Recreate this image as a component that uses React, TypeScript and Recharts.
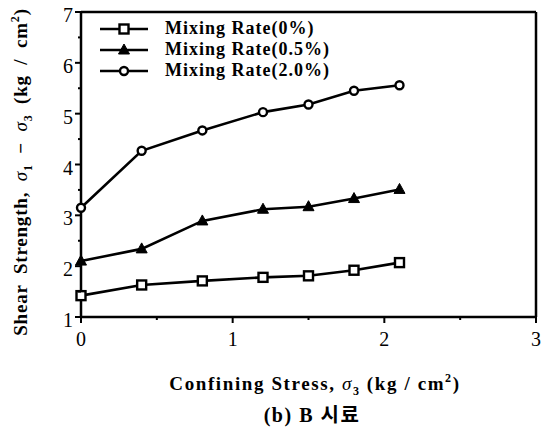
import React from "react";
import { LineChart, Line, XAxis, YAxis, ReferenceLine } from "recharts";

const xValues = [0, 0.4, 0.8, 1.2, 1.5, 1.8, 2.1];
const rate0 = [1.42, 1.63, 1.71, 1.78, 1.81, 1.92, 2.07];
const rate05 = [2.1, 2.34, 2.89, 3.12, 3.17, 3.33, 3.51];
const rate20 = [3.15, 4.27, 4.67, 5.03, 5.18, 5.45, 5.56];

const xTicks = [0, 0.5, 1, 1.5, 2, 2.5, 3];
const yTicks = [1, 1.5, 2, 2.5, 3, 3.5, 4, 4.5, 5, 5.5, 6, 6.5, 7];

const seriesNames = ["Mixing Rate(0%)", "Mixing Rate(0.5%)", "Mixing Rate(2.0%)"];
const seriesKeys = ["r0", "r05", "r20"];
const seriesMarkers = ["square", "triangle", "circle"];

const data = xValues.map((x, i) => ({ x, r0: rate0[i], r05: rate05[i], r20: rate20[i] }));

const FONT = "'Liberation Serif', 'DejaVu Serif', serif";

function Marker({ kind, cx, cy }: { kind: string; cx: number; cy: number }) {
  if (kind === "square") {
    return <rect x={cx - 4.5} y={cy - 4.5} width={9} height={9} fill="#fff" stroke="#000" strokeWidth={2.4} />;
  }
  if (kind === "circle") {
    return <circle cx={cx} cy={cy} r={4} fill="#fff" stroke="#000" strokeWidth={2.4} />;
  }
  return (
    <polygon
      points={`${cx},${cy - 6} ${cx - 5.5},${cy + 4} ${cx + 5.5},${cy + 4}`}
      fill="#000"
      stroke="#000"
      strokeWidth={1}
    />
  );
}

const makeDot = (kind: string) => (props: any) => {
  const { cx, cy, index } = props;
  return <Marker key={`${kind}-${index}`} kind={kind} cx={cx} cy={cy} />;
};

const XTick = (props: any) => {
  const { x, y, payload } = props;
  const major = Number.isInteger(payload.value);
  return (
    <g>
      <line x1={x} x2={x} y1={y} y2={y + (major ? 6 : 3)} stroke="#000" strokeWidth={2} />
      {major && (
        <text x={x} y={y + 29} textAnchor="middle" fontSize={20} fontFamily={FONT} fill="#000">
          {payload.value}
        </text>
      )}
    </g>
  );
};

const YTick = (props: any) => {
  const { x, y, payload } = props;
  const major = Number.isInteger(payload.value);
  return (
    <g>
      <line x1={x - (major ? 6 : 3)} x2={major && payload.value === 1 ? x + 5 : x} y1={y} y2={y} stroke="#000" strokeWidth={2} />
      {major && (
        <text x={x - 8} y={y + 10} textAnchor="end" fontSize={20} fontFamily={FONT} fill="#000">
          {payload.value}
        </text>
      )}
    </g>
  );
};

export default function App() {
  return (
    <div style={{ position: "absolute", left: 0, top: 0, width: 545, height: 436, background: "#fff" }}>
      <LineChart width={545} height={436} data={data} margin={{ top: 12, right: 9, bottom: 89, left: 0 }}>
        <XAxis
          type="number"
          dataKey="x"
          domain={[0, 3]}
          ticks={xTicks}
          interval={0}
          height={30}
          tickSize={0}
          tickMargin={0}
          tick={<XTick />}
          axisLine={{ stroke: "#000", strokeWidth: 2.5 }}
          tickLine={false}
        />
        <YAxis
          type="number"
          domain={[1, 7]}
          ticks={yTicks}
          interval={0}
          width={81}
          tickSize={0}
          tickMargin={0}
          tick={<YTick />}
          axisLine={{ stroke: "#000", strokeWidth: 2.5 }}
          tickLine={false}
        />
        <ReferenceLine y={7} stroke="#000" strokeWidth={2.5} />
        <ReferenceLine x={3} stroke="#000" strokeWidth={2.5} />
        {seriesKeys.map((k, i) => (
          <Line
            key={k}
            type="linear"
            dataKey={k}
            name={seriesNames[i]}
            stroke="#000"
            strokeWidth={2.6}
            dot={makeDot(seriesMarkers[i])}
            activeDot={false}
            isAnimationActive={false}
          />
        ))}
      </LineChart>

      <div style={{ position: "absolute", left: 99, top: 18, fontFamily: FONT, fontWeight: "bold", fontSize: 18, letterSpacing: 1 }}>
        {seriesNames.map((n, i) => (
          <div key={n} style={{ display: "flex", alignItems: "center", height: 21 }}>
            <svg width={50} height={14} style={{ marginRight: 16 }}>
              <line x1={1} x2={49} y1={7} y2={7} stroke="#000" strokeWidth={2.6} />
              <Marker kind={seriesMarkers[i]} cx={25} cy={7} />
            </svg>
            <span>{n}</span>
          </div>
        ))}
      </div>

      <div
        style={{
          position: "absolute",
          left: 22,
          top: 172,
          transform: "translate(-50%, -50%) rotate(-90deg)",
          whiteSpace: "nowrap",
          fontFamily: FONT,
          fontWeight: "bold",
          fontSize: 19,
          wordSpacing: 5,
          letterSpacing: 0.8,
        }}
      >
        Shear Strength, <i style={{ fontWeight: "normal" }}>σ</i><sub style={{ fontSize: 12 }}>1</sub> − <i style={{ fontWeight: "normal" }}>σ</i><sub style={{ fontSize: 12 }}>3</sub> (kg / cm<sup style={{ fontSize: 12 }}>2</sup>)
      </div>

      <div
        style={{
          position: "absolute",
          left: 315,
          top: 385,
          transform: "translate(-50%, -50%)",
          whiteSpace: "nowrap",
          fontFamily: FONT,
          fontWeight: "bold",
          fontSize: 19,
          letterSpacing: 1.6,
        }}
      >
        Confining Stress, <i style={{ fontWeight: "normal" }}>σ</i><sub style={{ fontSize: 12 }}>3</sub> (kg / cm<sup style={{ fontSize: 12 }}>2</sup>)
      </div>

      <div
        style={{
          position: "absolute",
          left: 312,
          top: 413,
          transform: "translate(-50%, -50%)",
          whiteSpace: "nowrap",
          fontFamily: "'Liberation Serif', 'Noto Sans CJK KR', serif",
          fontWeight: "bold",
          fontSize: 20,
          letterSpacing: 1.5,
        }}
      >
        (b) B 시료
      </div>
    </div>
  );
}
